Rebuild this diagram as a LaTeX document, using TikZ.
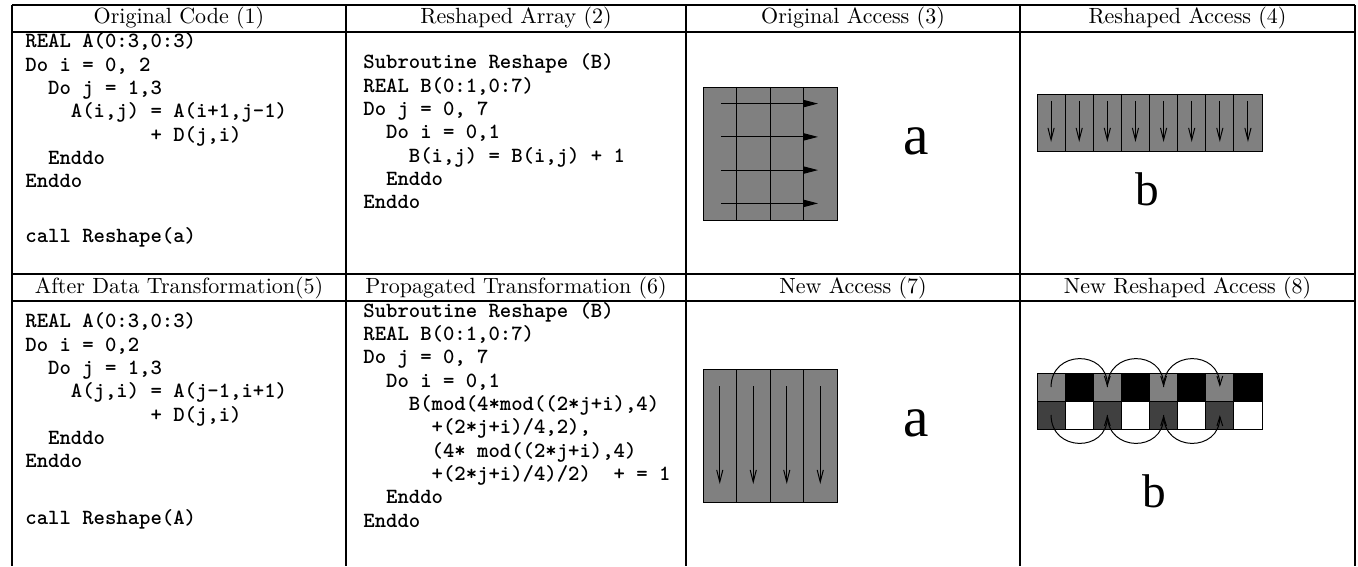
\documentclass[tikz,border=0pt]{standalone}
\usepackage{fontspec}
\newfontfamily\figletter{Liberation Serif}
\usetikzlibrary{arrows.meta}
\definecolor{midgray}{gray}{0.5}
\definecolor{deepgray}{gray}{0.25}
\begin{document}
\begin{tikzpicture}[x=0.454545pt,y=-0.454545pt,
  rule/.style={line width=1.05pt},
  headrule/.style={line width=1.3pt},
  title/.style={font=\fontsize{10}{12}\selectfont, inner sep=0pt},
  code/.style={font=\fontsize{9.85}{10.6}\selectfont\ttfamily\bfseries,
               align=left, inner sep=0pt, anchor=north west},
  thinline/.style={draw=black, line width=0.45pt},
  fat/.style={thinline, -{Triangle[length=6.8pt,width=3.4pt]}},
  stick/.style={thinline, -{Straight Barb[length=5.5pt,width=2.8pt]}},
  hop/.style={thinline, -{Straight Barb[length=4.2pt,width=2.6pt]}},
  cellbox/.style={draw=black, line width=0.4pt, minimum width=12.784pt, minimum height=12.727pt, inner sep=0pt, outer sep=0pt},
  bigletter/.style={font=\figletter\fontsize{#1}{#1}\selectfont, inner sep=0pt}
]
\fill[white] (0,0) rectangle (1358,566);
\useasboundingbox (0,0) rectangle (1358,566);

% ---- table rules ----
\draw[rule] (12,5) -- (1355,5);
\draw[headrule] (12,32) -- (1355,32);
\draw[rule] (12,274) -- (1355,274);
\draw[headrule] (12,301) -- (1355,301);
\foreach \x in {12,346,686,1020,1355} \draw[rule] (\x,5) -- (\x,566);

% ---- column titles ----
\node[title] (h1) at (179,18.5) {Original Code (1)};
\node[title] (h2) at (516,18.5) {Reshaped Array (2)};
\node[title] (h3) at (853,18.5) {Original Access (3)};
\node[title] (h4) at (1187.5,18.5) {Reshaped Access (4)};
\node[title] (h5) at (179,287.5) {After Data Transformation(5)};
\node[title] (h6) at (516,287.5) {Propagated Transformation (6)};
\node[title] (h7) at (853,287.5) {New Access (7)};
\node[title] (h8) at (1187.5,287.5) {New Reshaped Access (8)};

% ---- code listings ----
\node[code] (c1) at (25,32.5) {REAL A(0:3,0:3)\\
Do i = 0, 2\\
~~Do j = 1,3\\
~~~~A(i,j) = A(i+1,j-1)\\
~~~~~~~~~~~+ D(j,i)\\
~~Enddo\\
Enddo\\[14.4pt]
call Reshape(a)};

\node[code] (c2) at (363,53.5) {Subroutine Reshape (B)\\
REAL B(0:1,0:7)\\
Do j = 0, 7\\
~~Do i = 0,1\\
~~~~B(i,j) = B(i,j) + 1\\
~~Enddo\\
Enddo};

\node[code] (c5) at (25,312.5) {REAL A(0:3,0:3)\\
Do i = 0,2\\
~~Do j = 1,3\\
~~~~A(j,i) = A(j-1,i+1)\\
~~~~~~~~~~~+ D(j,i)\\
~~Enddo\\
Enddo\\[15.3pt]
call Reshape(A)};

\node[code] (c6) at (363,301.8) {Subroutine Reshape (B)\\
REAL B(0:1,0:7)\\
Do j = 0, 7\\
~~Do i = 0,1\\
~~~~B(mod(4*mod((2*j+i),4)\\
~~~~~~+(2*j+i)/4,2),\\
~~~~~~(4* mod((2*j+i),4)\\
~~~~~~+(2*j+i)/4)/2)~~+ = 1\\
~~Enddo\\
Enddo};

% ---- original access: row-wise sweep over a 4x4 array ----
\fill[midgray] (703,87) rectangle (837,220);
\foreach \x in {736.5,770,803.5} \draw[thinline] (\x,87) -- (\x,220);
\foreach \y in {103.6,136.9,170.1,203.4} \draw[fat] (721,\y) -- (818,\y);
\draw[thinline] (703,87) rectangle (837,220);
\node[bigletter=26] (la) at (916,141.5) {a};

% ---- reshaped access: 2x8 array, column sweep ----
\fill[midgray] (1037,94) rectangle (1262,151);
\foreach \i in {1,...,7} \draw[thinline] (1037+28.125*\i,94) -- (1037+28.125*\i,151);
\foreach \i in {0,...,7} \draw[stick] (1051.06+28.125*\i,101) -- (1051.06+28.125*\i,142);
\draw[thinline] (1037,94) rectangle (1262,151);
\node[bigletter=21.5] (lb) at (1147,189.5) {b};

% ---- new access: column-wise sweep over the 4x4 array ----
\fill[midgray] (703,369) rectangle (837,502);
\foreach \x in {736.5,770,803.5} \draw[thinline] (\x,369) -- (\x,502);
\foreach \x in {719.75,753.25,786.75,820.25} \draw[stick] (\x,386) -- (\x,484);
\draw[thinline] (703,369) rectangle (837,502);
\node[bigletter=26] (la2) at (916,423) {a};

% ---- new reshaped access: strided hops in the 2x8 array ----
\foreach \i/\tc/\bc in {0/midgray/deepgray,1/black/white,2/midgray/deepgray,3/black/white,
                         4/midgray/deepgray,5/black/white,6/midgray/deepgray,7/black/white}{
  \node[cellbox, fill=\tc] (t\i) at (1051.06+28.125*\i,387) {};
  \node[cellbox, fill=\bc] (b\i) at (1051.06+28.125*\i,415) {};
}
\foreach \s/\e in {0/2,2/4,4/6}{
  \draw[hop] (t\s.center) .. controls +(0,-37.5) and +(0,-37.5) .. (t\e.center);
  \draw[hop] (b\s.center) .. controls +(0,37.5) and +(0,37.5) .. (b\e.center);
}
\node[bigletter=21.5] (lb2) at (1154.5,491) {b};
\end{tikzpicture}
\end{document}
